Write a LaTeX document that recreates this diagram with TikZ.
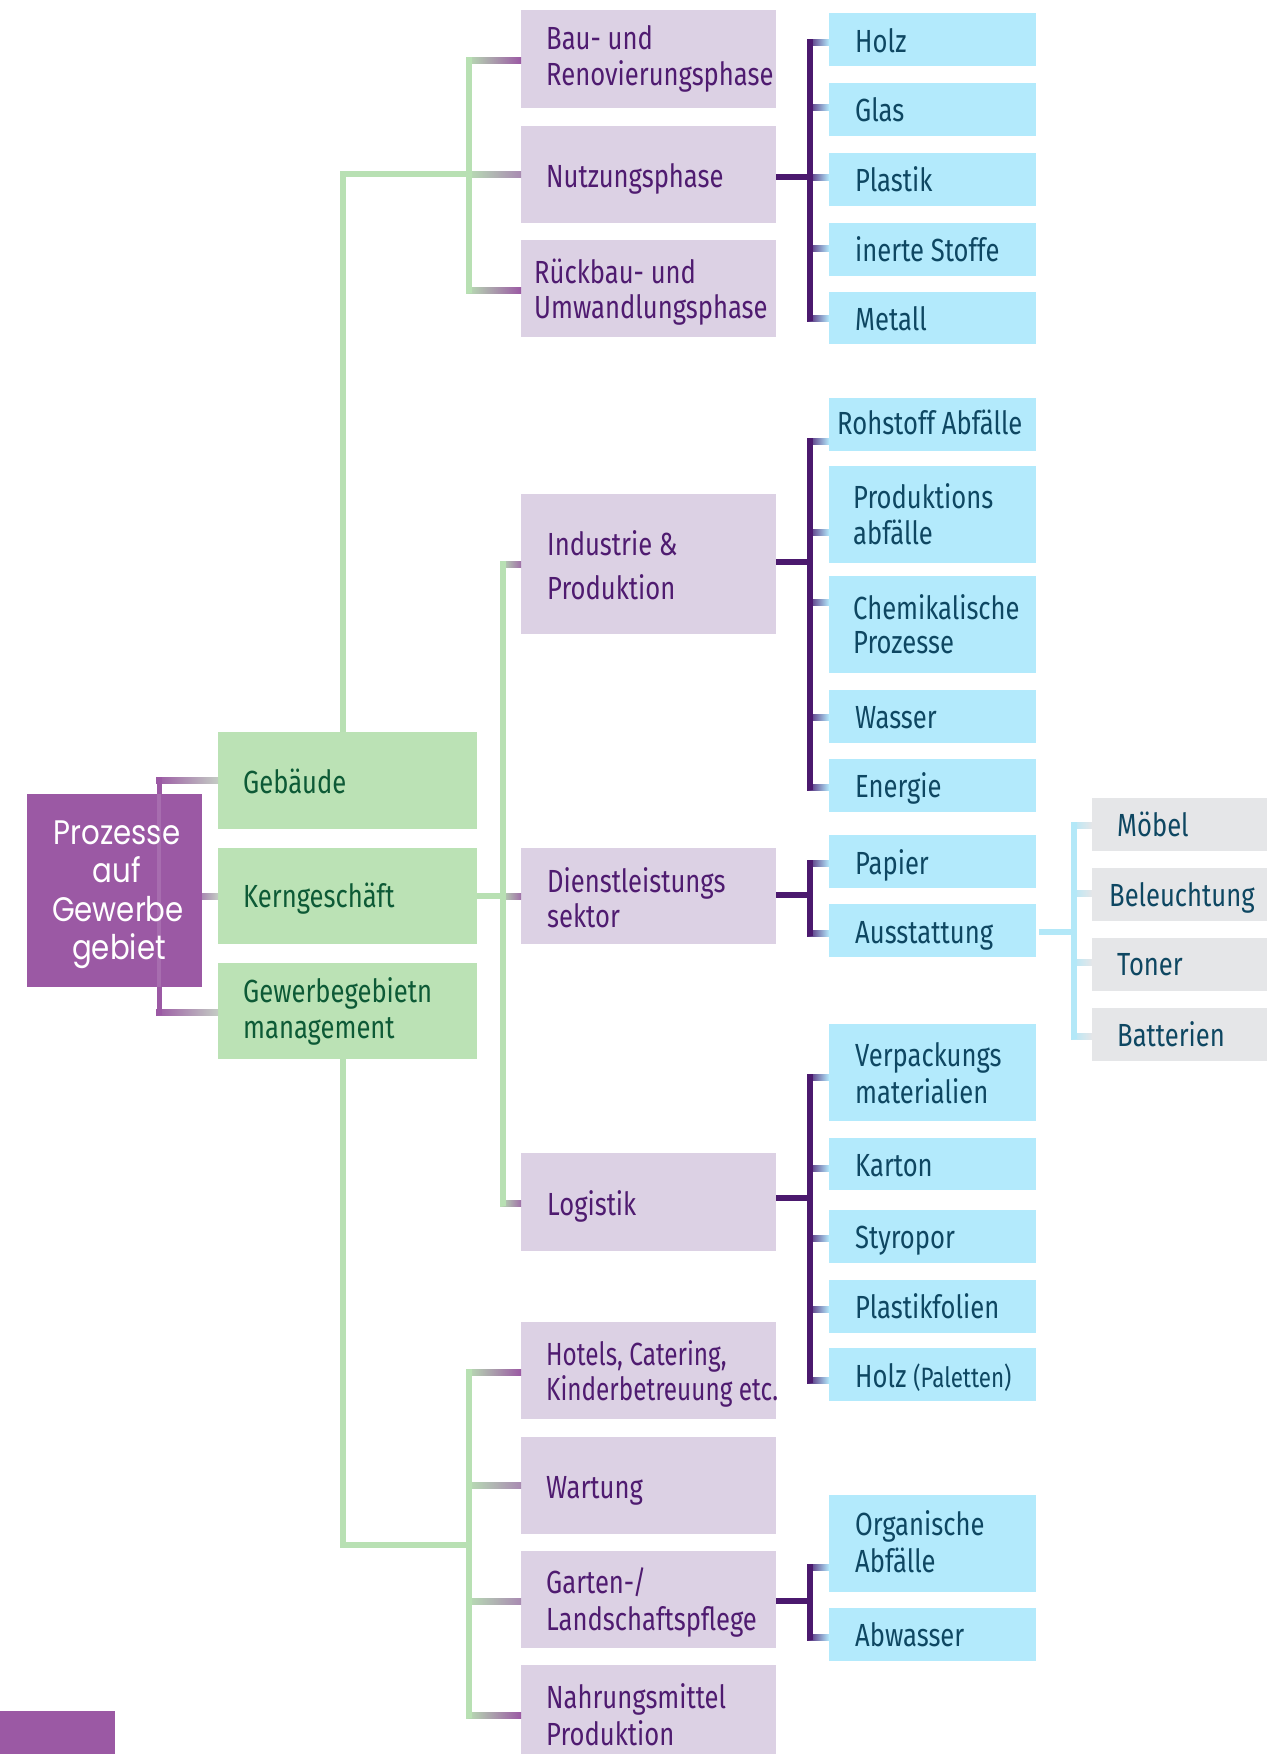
\documentclass[tikz,border=0pt]{standalone}
\usepackage{fontspec}
\setmainfont{Fira Sans}[FakeStretch=0.80]
\newfontfamily\narrowfont{Fira Sans}[FakeStretch=0.76]
\newfontfamily\rootfont{Poppins}[FakeStretch=0.86]
\usetikzlibrary{calc}
\definecolor{rootp}{HTML}{9B59A4}
\definecolor{gbox}{HTML}{BBE2B5}
\definecolor{gtext}{HTML}{0D5A36}
\definecolor{pbox}{HTML}{DCD1E4}
\definecolor{ptext}{HTML}{4F1B70}
\definecolor{bpur}{HTML}{4B196E}
\definecolor{bbox}{HTML}{B3EAFC}
\definecolor{btext}{HTML}{0E4762}
\definecolor{graybox}{HTML}{E5E6E8}
\definecolor{glcol}{HTML}{B8E0B3}
\definecolor{lbcol}{HTML}{B3E8F8}
\definecolor{mixp}{HTML}{A98AB2}
\definecolor{midp}{HTML}{A070A8}
\definecolor{grayg}{HTML}{C4CCC4}
\newcommand\bx[6]{\node[#1,anchor=north west,minimum width=#5pt,minimum height=#6pt,inner sep=0pt,outer sep=0pt] (#2) at (#3,#4) {};}
\newcommand\tx[5]{\node[#2,anchor=base west,inner sep=0pt] (#1) at (#3,#4) {#5};}
% colA colB spinex node y
\newcommand\htick[5]{%
  \coordinate (tk) at (#4.west |- #3,#5);
  \shade[left color=#1,right color=#2] (#3,#5) ++(-3,-3) rectangle ($(tk)+(0,3)$);}
\begin{document}
\begin{tikzpicture}[x=1pt,y=-1pt,
  gboxs/.style={fill=gbox},
  pboxs/.style={fill=pbox},
  bboxs/.style={fill=bbox},
  grboxs/.style={fill=graybox},
  rboxs/.style={fill=rootp},
  lbl/.style={font=\fontsize{32pt}{36pt}\selectfont},
  gt/.style={lbl,text=gtext},
  pt/.style={lbl,text=ptext},
  bt/.style={lbl,text=btext},
  rt/.style={font=\rootfont\fontsize{34pt}{38pt}\selectfont,text=white,anchor=base,inner sep=0pt},
  gl/.style={draw=glcol,line width=6pt},
  pl/.style={draw=bpur,line width=6pt},
  ll/.style={draw=lbcol,line width=6pt},
  rl/.style={draw=rootp,line width=5pt}
]
\useasboundingbox (0,0) rectangle (1277,1754);
\fill[white] (0,0) rectangle (1277,1754);

% ---------- boxes ----------
\bx{rboxs}{root}{27}{794}{175}{193}
\bx{gboxs}{geb}{218}{732}{259}{97}
\bx{gboxs}{kern}{218}{848}{259}{96}
\bx{gboxs}{mgmt}{218}{963}{259}{96}

\bx{pboxs}{bau}{521}{10}{255}{98}
\bx{pboxs}{nutz}{521}{126}{255}{97}
\bx{pboxs}{rueck}{521}{240}{255}{97}
\bx{pboxs}{ind}{521}{494}{255}{140}
\bx{pboxs}{dienst}{521}{848}{255}{96}
\bx{pboxs}{logi}{521}{1153}{255}{98}
\bx{pboxs}{hotel}{521}{1322}{255}{97}
\bx{pboxs}{wart}{521}{1437}{255}{97}
\bx{pboxs}{garten}{521}{1551}{255}{97}
\bx{pboxs}{nahr}{521}{1665}{255}{89}

\bx{bboxs}{holz}{829}{13}{207}{53}
\bx{bboxs}{glas}{829}{83}{207}{53}
\bx{bboxs}{plastik}{829}{153}{207}{53}
\bx{bboxs}{inerte}{829}{223}{207}{53}
\bx{bboxs}{metall}{829}{292}{207}{52}
\bx{bboxs}{rohstoff}{829}{398}{207}{53}
\bx{bboxs}{prod}{829}{466}{207}{97}
\bx{bboxs}{chem}{829}{576}{207}{97}
\bx{bboxs}{wasser}{829}{690}{207}{53}
\bx{bboxs}{energie}{829}{759}{207}{53}
\bx{bboxs}{papier}{829}{835}{207}{53}
\bx{bboxs}{ausst}{829}{904}{207}{53}
\bx{bboxs}{verp}{829}{1024}{207}{97}
\bx{bboxs}{karton}{829}{1138}{207}{52}
\bx{bboxs}{styro}{829}{1210}{207}{53}
\bx{bboxs}{plfol}{829}{1280}{207}{53}
\bx{bboxs}{holzp}{829}{1348}{207}{53}
\bx{bboxs}{org}{829}{1495}{207}{97}
\bx{bboxs}{abw}{829}{1608}{207}{53}

\bx{grboxs}{moebel}{1092}{798}{175}{53}
\bx{grboxs}{bel}{1092}{868}{175}{53}
\bx{grboxs}{toner}{1092}{938}{175}{53}
\bx{grboxs}{batt}{1092}{1008}{175}{53}

\bx{rboxs}{corner}{0}{1711}{115}{43}

% ---------- root connectors ----------
\htick{rootp}{grayg}{159}{geb}{780}
\htick{rootp}{grayg}{159}{mgmt}{1012}
\htick{mixp}{grayg}{205}{kern}{896}
\draw[rl] (159,777) -- (159,1015);
\fill[white,opacity=0.12] (157,794) rectangle (161,987);

% ---------- green connectors ----------
\draw[gl] (343,0 |- geb.north) -- (343,174) -- (469,174);
\draw[gl] (343,0 |- mgmt.south) -- (343,1545) -- (469,1545);
\draw[gl] (kern.east) -- (503,896);
\htick{glcol}{rootp}{469}{bau}{60}
\htick{glcol}{mixp}{469}{nutz}{174}
\htick{glcol}{rootp}{469}{rueck}{290}
\htick{glcol}{midp}{503}{ind}{564}
\htick{glcol}{midp}{503}{dienst}{896}
\htick{glcol}{midp}{503}{logi}{1203}
\htick{glcol}{rootp}{469}{hotel}{1372}
\htick{glcol}{mixp}{469}{wart}{1485}
\htick{glcol}{mixp}{469}{garten}{1601}
\htick{glcol}{rootp}{469}{nahr}{1715}
\draw[gl] (469,57) -- (469,293);
\draw[gl] (503,561) -- (503,1206);
\draw[gl] (469,1369) -- (469,1718);

% ---------- purple brackets ----------
\draw[pl] (nutz.east |- 0,177) -- (810,177);
\foreach \n/\y in {holz/42,glas/107,plastik/177,inerte/248,metall/318}{\htick{bpur}{bbox}{810}{\n}{\y}}
\draw[pl] (810,39) -- (810,321);

\draw[pl] (ind.east |- 0,562) -- (810,562);
\foreach \n/\y in {rohstoff/441,prod/532,chem/602,wasser/717,energie/787}{\htick{bpur}{bbox}{810}{\n}{\y}}
\draw[pl] (810,438) -- (810,790);

\draw[pl] (dienst.east |- 0,895) -- (810,895);
\foreach \n/\y in {papier/863,ausst/933}{\htick{bpur}{bbox}{810}{\n}{\y}}
\draw[pl] (810,860) -- (810,936);

\draw[pl] (logi.east |- 0,1198) -- (810,1198);
\foreach \n/\y in {verp/1077,karton/1168,styro/1238,plfol/1309,holzp/1380}{\htick{bpur}{bbox}{810}{\n}{\y}}
\draw[pl] (810,1074) -- (810,1383);

\draw[pl] (garten.east |- 0,1601) -- (810,1601);
\foreach \n/\y in {org/1567,abw/1637}{\htick{bpur}{bbox}{810}{\n}{\y}}
\draw[pl] (810,1564) -- (810,1640);

% ---------- light blue bracket ----------
\draw[ll] ([xshift=3pt]ausst.east |- 0,932) -- (1074,932);
\foreach \n/\y in {moebel/825,bel/893,toner/962,batt/1036}{\htick{lbcol}{graybox}{1074}{\n}{\y}}
\draw[ll] (1074,822) -- (1074,1039);

% ---------- texts ----------
\node[rt] (r1) at (117,844) {Prozesse};
\node[rt] (r2) at (117,882) {auf};
\node[rt] (r3) at (118,921) {Gewerbe};
\node[rt] (r4) at (119,959) {gebiet};

\tx{t1}{gt}{243}{793}{Gebäude}
\tx{t2}{gt}{243}{907}{Kerngeschäft}
\tx{t3}{gt}{243}{1002}{Gewerbegebietn}
\tx{t4}{gt}{243}{1038}{management}

\tx{p1}{pt}{546}{49}{Bau- und}
\tx{p2}{pt}{546}{85}{Renovierungsphase}
\tx{p3}{pt}{546}{187}{Nutzungsphase}
\tx{p4}{pt}{534}{283}{Rückbau- und}
\tx{p5}{pt}{534}{318}{Umwandlungsphase}
\tx{p6}{pt}{547}{555}{Industrie \&}
\tx{p7}{pt}{547}{599}{Produktion}
\tx{p8}{pt}{547}{892}{Dienstleistungs}
\tx{p9}{pt}{547}{927}{sektor}
\tx{p10}{pt}{547}{1215}{Logistik}
\tx{p11}{pt}{546}{1365}{\narrowfont Hotels, Catering,}
\tx{p12}{pt}{546}{1400}{\narrowfont Kinderbetreuung etc.}
\tx{p13}{pt}{546}{1498}{Wartung}
\tx{p14}{pt}{546}{1593}{Garten-/}
\tx{p15}{pt}{546}{1630}{Landschaftspflege}
\tx{p16}{pt}{546}{1708}{Nahrungsmittel}
\tx{p17}{pt}{546}{1745}{Produktion}

\tx{b1}{bt}{855}{52}{Holz}
\tx{b2}{bt}{855}{121}{Glas}
\tx{b3}{bt}{855}{191}{Plastik}
\tx{b4}{bt}{855}{261}{inerte Stoffe}
\tx{b5}{bt}{855}{330}{Metall}
\tx{b6}{bt}{837}{434}{Rohstoff Abfälle}
\tx{b7}{bt}{853}{508}{Produktions}
\tx{b8}{bt}{853}{544}{abfälle}
\tx{b9}{bt}{853}{619}{Chemikalische}
\tx{b10}{bt}{853}{653}{Prozesse}
\tx{b11}{bt}{855}{728}{Wasser}
\tx{b12}{bt}{855}{797}{Energie}
\tx{b13}{bt}{855}{874}{Papier}
\tx{b14}{bt}{855}{943}{Ausstattung}
\tx{b15}{bt}{855}{1066}{Verpackungs}
\tx{b16}{bt}{855}{1103}{materialien}
\tx{b17}{bt}{855}{1176}{Karton}
\tx{b18}{bt}{855}{1248}{Styropor}
\tx{b19}{bt}{855}{1318}{Plastikfolien}
\tx{b20}{bt}{855}{1387}{Holz {\fontsize{28pt}{30pt}\selectfont (Paletten)}}
\tx{b21}{bt}{855}{1535}{Organische}
\tx{b22}{bt}{855}{1572}{Abfälle}
\tx{b23}{bt}{855}{1646}{Abwasser}

\tx{g1}{bt}{1117}{836}{Möbel}
\tx{g2}{bt}{1109}{906}{Beleuchtung}
\tx{g3}{bt}{1117}{975}{Toner}
\tx{g4}{bt}{1117}{1046}{Batterien}
\end{tikzpicture}
\end{document}
